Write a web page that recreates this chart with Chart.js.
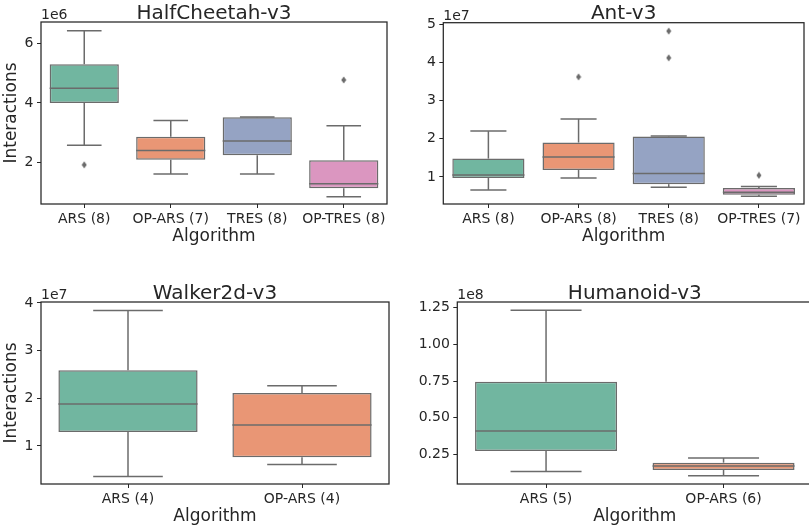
<!DOCTYPE html>
<html>
<head>
<meta charset="utf-8">
<script src="https://cdn.jsdelivr.net/npm/chart.js@4.4.1/dist/chart.umd.min.js"></script>
<style>
  html, body { margin: 0; padding: 0; background: #fff; overflow: hidden; width: 809px; height: 530px; }
  canvas { position: absolute; }
</style>
</head>
<body>
<canvas id="hc"></canvas>
<canvas id="ant"></canvas>
<canvas id="walker"></canvas>
<canvas id="humanoid"></canvas>
<script>
// colours: seaborn Set2, desaturated a bit like the boxplot does
const boxColors = ['#71b6a0', '#e99675', '#95a3c3', '#db96c0'];
const LINE = '#6b6b6b';
const INK = '#262626';
const FONT = "'DejaVu Sans', sans-serif";

// HalfCheetah-v3 (values in 1e6)
const hcLabels = ['ARS (8)', 'OP-ARS (7)', 'TRES (8)', 'OP-TRES (8)'];
const hcLow = [2.59, 1.62, 1.62, 0.86];
const hcQ1 = [4.00, 2.10, 2.25, 1.15];
const hcMed = [4.49, 2.41, 2.73, 1.30];
const hcQ3 = [5.30, 2.87, 3.52, 2.08];
const hcHigh = [6.42, 3.41, 3.53, 3.24];
const hcOutliers = [[1.93], [], [], [4.77]];
const hcTicks = [2, 4, 6];

// Ant-v3 (values in 1e7)
const antLabels = ['ARS (8)', 'OP-ARS (8)', 'TRES (8)', 'OP-TRES (7)'];
const antLow = [0.66, 0.97, 0.73, 0.49];
const antQ1 = [0.97, 1.18, 0.81, 0.53];
const antMed = [1.05, 1.52, 1.09, 0.60];
const antQ3 = [1.48, 1.90, 2.06, 0.71];
const antHigh = [2.20, 2.52, 2.07, 0.75];
const antOutliers = [[], [3.62], [4.12, 4.82], [1.04]];
const antTicks = [1, 2, 3, 4, 5];

// Walker2d-v3 (values in 1e7)
const wkLabels = ['ARS (4)', 'OP-ARS (4)'];
const wkLow = [0.36, 0.61];
const wkQ1 = [1.29, 0.76];
const wkMed = [1.88, 1.44];
const wkQ3 = [2.59, 2.11];
const wkHigh = [3.84, 2.26];
const wkOutliers = [[], []];
const wkTicks = [1, 2, 3, 4];

// Humanoid-v3 (values in 1e8)
const huLabels = ['ARS (5)', 'OP-ARS (6)'];
const huLow = [0.132, 0.104];
const huQ1 = [0.273, 0.143];
const huMed = [0.409, 0.170];
const huQ3 = [0.745, 0.193];
const huHigh = [1.232, 0.225];
const huOutliers = [[], []];
const huTicks = [0.25, 0.50, 0.75, 1.00, 1.25];

// thin diamond marker for the fliers
function diamondMarker() {
  const c = document.createElement('canvas');
  c.width = 6; c.height = 8;
  const g = c.getContext('2d');
  g.fillStyle = LINE;
  g.beginPath();
  g.moveTo(3, 0.5); g.lineTo(5.5, 4); g.lineTo(3, 7.5); g.lineTo(0.5, 4);
  g.closePath();
  g.fill();
  return c;
}
const marker = diamondMarker();

function makePanel(p) {
  const cv = document.getElementById(p.id);
  cv.style.left = p.left + 'px';
  cv.style.top = p.top + 'px';
  cv.width = p.width;
  cv.height = p.height;

  // whiskers, caps and median lines on top of the floating bars
  const boxParts = {
    id: 'boxParts',
    afterDatasetsDraw(chart) {
      const ctx = chart.ctx, y = chart.scales.y;
      const meta = chart.getDatasetMeta(0);
      ctx.save();
      ctx.strokeStyle = LINE;
      ctx.lineWidth = 1.5;
      const seg = (x1, y1, x2, y2) => { ctx.beginPath(); ctx.moveTo(x1, y1); ctx.lineTo(x2, y2); ctx.stroke(); };
      meta.data.forEach((bar, i) => {
        const x = bar.x, half = bar.width / 2;
        const yLo = y.getPixelForValue(p.low[i]), yHi = y.getPixelForValue(p.high[i]);
        const yQ1 = y.getPixelForValue(p.q1[i]), yQ3 = y.getPixelForValue(p.q3[i]);
        const yMed = y.getPixelForValue(p.med[i]);
        seg(x, yQ3, x, yHi);
        seg(x, yQ1, x, yLo);
        seg(x - half / 2, yHi, x + half / 2, yHi);
        seg(x - half / 2, yLo, x + half / 2, yLo);
        seg(x - half, yMed, x + half, yMed);
      });
      ctx.restore();
    }
  };

  // frame, title and the exponent label
  const frame = {
    id: 'frame',
    afterDraw(chart) {
      const ctx = chart.ctx, a = chart.chartArea;
      ctx.save();
      ctx.strokeStyle = INK;
      ctx.lineWidth = 1.25;
      ctx.strokeRect(a.left, a.top, a.right - a.left, a.bottom - a.top);
      ctx.fillStyle = INK;
      ctx.textBaseline = 'alphabetic';
      ctx.font = '20px ' + FONT;
      ctx.textAlign = 'center';
      ctx.fillText(p.title, (a.left + a.right) / 2, a.top - 3.5);
      ctx.font = '14px ' + FONT;
      ctx.textAlign = 'left';
      ctx.fillText(p.exp, a.left, a.top - 3);
      ctx.restore();
    }
  };

  const fliers = [];
  p.outliers.forEach((arr, i) => arr.forEach(v => fliers.push({ x: p.labels[i], y: v })));

  new Chart(cv, {
    type: 'bar',
    data: {
      labels: p.labels,
      datasets: [
        {
          data: p.q1.map((v, i) => [v, p.q3[i]]),
          backgroundColor: boxColors.slice(0, p.labels.length),
          borderColor: LINE,
          borderWidth: 1.5,
          borderSkipped: false,
          barPercentage: 0.8,
          categoryPercentage: 1.0
        },
        {
          type: 'scatter',
          data: fliers,
          pointStyle: marker,
          pointRadius: 4,
          showLine: false
        }
      ]
    },
    options: {
      responsive: false,
      animation: false,
      layout: { padding: { left: 0, right: p.width - p.plotRight, top: p.plotTop, bottom: 0 } },
      plugins: { legend: { display: false }, tooltip: { enabled: false } },
      scales: {
        x: {
          type: 'category',
          offset: true,
          grid: { offset: false, drawOnChartArea: false, color: INK, tickLength: 4 },
          border: { display: false },
          ticks: { color: INK, font: { family: FONT, size: 14 }, padding: 3, maxRotation: 0 },
          title: { display: true, text: 'Algorithm', color: INK, font: { family: FONT, size: 17 }, padding: { top: 0, bottom: 2.8 } },
          afterFit: s => { s.height = 46; }
        },
        y: {
          min: p.min,
          max: p.max,
          grid: { drawOnChartArea: false, color: INK, tickLength: 4 },
          border: { display: false },
          afterBuildTicks: s => { s.ticks = p.ticks.map(v => ({ value: v })); },
          ticks: {
            color: INK,
            font: { family: FONT, size: 14 },
            padding: 3.5,
            callback: v => p.decimals ? v.toFixed(p.decimals) : String(v)
          },
          title: { display: p.ylabel, text: 'Interactions', color: INK, font: { family: FONT, size: 17 }, padding: { top: 1.3, bottom: 0 } },
          afterFit: s => { s.width = p.plotLeft; }
        }
      }
    },
    plugins: [boxParts, frame]
  });
}

makePanel({
  id: 'hc', left: 0, top: 0, width: 400, height: 250,
  plotLeft: 41, plotRight: 387, plotTop: 22,
  title: 'HalfCheetah-v3', exp: '1e6', ylabel: true, decimals: 0,
  min: 0.62, max: 6.71, ticks: hcTicks,
  labels: hcLabels, low: hcLow, q1: hcQ1, med: hcMed, q3: hcQ3, high: hcHigh, outliers: hcOutliers
});
makePanel({
  id: 'ant', left: 400, top: 0, width: 409, height: 250.3,
  plotLeft: 43.3, plotRight: 408.5, plotTop: 22.7,
  title: 'Ant-v3', exp: '1e7', ylabel: false, decimals: 0,
  min: 0.29, max: 5.04, ticks: antTicks,
  labels: antLabels, low: antLow, q1: antQ1, med: antMed, q3: antQ3, high: antHigh, outliers: antOutliers
});
makePanel({
  id: 'walker', left: 0, top: 268, width: 400, height: 262,
  plotLeft: 41, plotRight: 389, plotTop: 34,
  title: 'Walker2d-v3', exp: '1e7', ylabel: true, decimals: 0,
  min: 0.2, max: 4.02, ticks: wkTicks,
  labels: wkLabels, low: wkLow, q1: wkQ1, med: wkMed, q3: wkQ3, high: wkHigh, outliers: wkOutliers
});
makePanel({
  id: 'humanoid', left: 400, top: 268, width: 420, height: 262,
  plotLeft: 57.3, plotRight: 412.3, plotTop: 34,
  title: 'Humanoid-v3', exp: '1e8', ylabel: false, decimals: 2,
  min: 0.0475, max: 1.289, ticks: huTicks,
  labels: huLabels, low: huLow, q1: huQ1, med: huMed, q3: huQ3, high: huHigh, outliers: huOutliers
});
</script>
</body>
</html>
